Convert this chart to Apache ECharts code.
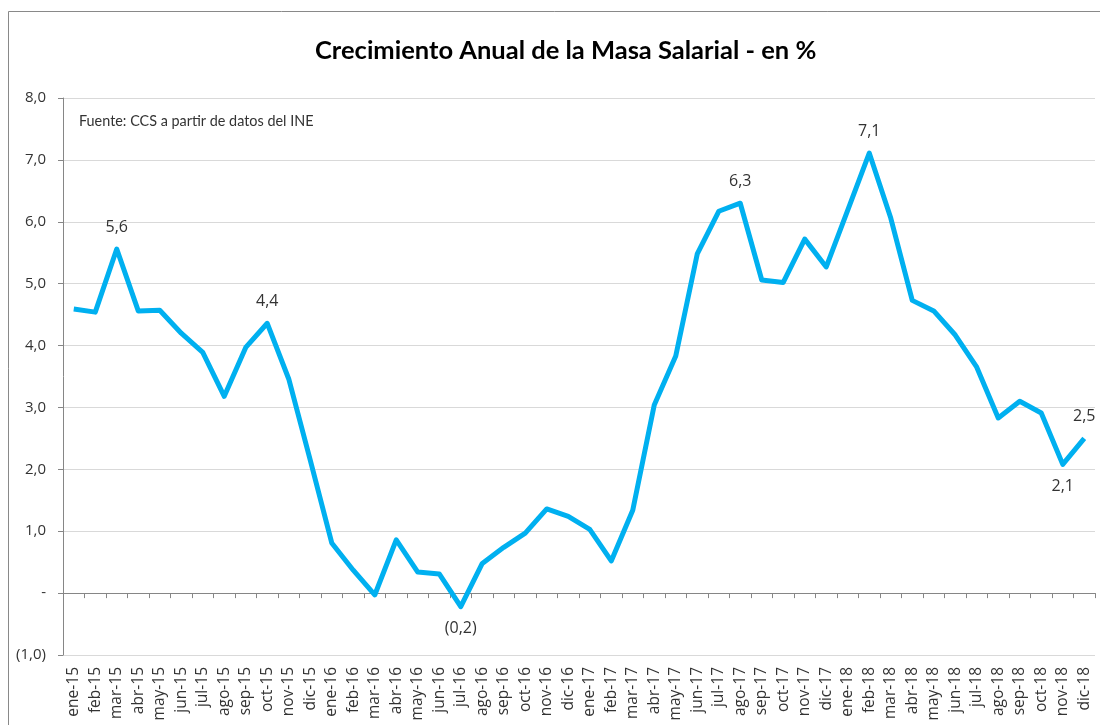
<!DOCTYPE html>
<html>
<head>
<meta charset="utf-8">
<script src="https://cdn.jsdelivr.net/npm/echarts@6/dist/echarts.min.js"></script>
<style>
html,body{margin:0;padding:0;background:#fff;}
#chart{width:1100px;height:725px;}
</style>
</head>
<body>
<div id="chart"></div>
<script>
var months = ['ene-15','feb-15','mar-15','abr-15','may-15','jun-15','jul-15','ago-15','sep-15','oct-15','nov-15','dic-15',
  'ene-16','feb-16','mar-16','abr-16','may-16','jun-16','jul-16','ago-16','sep-16','oct-16','nov-16','dic-16',
  'ene-17','feb-17','mar-17','abr-17','may-17','jun-17','jul-17','ago-17','sep-17','oct-17','nov-17','dic-17',
  'ene-18','feb-18','mar-18','abr-18','may-18','jun-18','jul-18','ago-18','sep-18','oct-18','nov-18','dic-18'];
var growth = [4.59,4.54,5.56,4.56,4.57,4.20,3.89,3.18,3.97,4.36,3.46,2.15,
  0.81,0.37,-0.03,0.86,0.34,0.31,-0.22,0.48,0.74,0.97,1.36,1.24,
  1.03,0.52,1.34,3.04,3.83,5.48,6.17,6.30,5.06,5.02,5.72,5.27,
  6.19,7.11,6.06,4.73,4.56,4.17,3.65,2.83,3.10,2.91,2.08,2.50];
// labelled points: index -> position
var labelIdx = {2:'top',9:'top',18:'bottom',31:'top',37:'top',46:'bottom',47:'top'};
var titleText = 'Crecimiento Anual de la Masa Salarial - en %';
var sourceText = 'Fuente: CCS a partir de datos del INE';

function fmtNum(v){
  var s = Math.abs(v).toFixed(1).replace('.', ',');
  return v < 0 ? '(' + s + ')' : s;
}
function fmtAxis(v){
  if (Math.abs(v) < 1e-9) return '-';
  return fmtNum(v);
}

var labelFont = '"Open Sans", sans-serif';
var seriesData = growth.map(function(v, i){
  var o = {value: v};
  if (labelIdx[i]) {
    o.label = {show: true, position: labelIdx[i], distance: 14,
      formatter: function(p){ return fmtNum(Math.round(p.value*10)/10); }};
    if (i === 47) { o.label.offset = [6, 2]; }
  }
  return o;
});

var chart = echarts.init(document.getElementById('chart'), null, {renderer: 'canvas'});
var fontFam = 'Lato, "Open Sans", sans-serif';
chart.setOption({
  animation: false,
  backgroundColor: '#ffffff',
  textStyle: {fontFamily: labelFont},
  title: {
    text: titleText,
    left: 310,
    top: 33,
    textStyle: {fontFamily: fontFam, fontSize: 25.5, fontWeight: 'bold', color: '#000'}
  },
  graphic: [
    {type: 'rect', shape: {x: 8.5, y: 11.5, width: 1100, height: 720}, style: {fill: 'none', stroke: '#898989', lineWidth: 1}, silent: true, z: -1},
    {type: 'text', left: 79, top: 114, style: {text: sourceText, font: '14.4px ' + fontFam, fill: '#333'}}
  ],
  grid: {left: 63, right: 5, top: 98, bottom: 70, containLabel: false},
  xAxis: [
    {
      type: 'category', data: months, position: 'bottom', boundaryGap: true,
      axisLine: {show: false, onZero: false}, axisTick: {show: false},
      axisLabel: {rotate: 90, fontSize: 15.5, color: '#333', margin: 12, interval: 0, fontFamily: labelFont}
    },
    {
      type: 'category', data: months, position: 'bottom', boundaryGap: true,
      axisLine: {show: true, onZero: true, lineStyle: {color: '#868686', width: 1}},
      axisTick: {show: true, inside: false, length: 5, interval: 0, alignWithLabel: false, lineStyle: {color: '#868686'}},
      axisLabel: {show: false}
    }
  ],
  yAxis: {
    type: 'value', min: -1, max: 8, interval: 1,
    axisLine: {show: true, lineStyle: {color: '#868686'}},
    axisTick: {show: true, length: 5, lineStyle: {color: '#868686'}},
    splitLine: {show: true, lineStyle: {color: '#d9d9d9', width: 1}},
    axisLabel: {fontSize: 15, color: '#333', margin: 17, formatter: fmtAxis, fontFamily: labelFont}
  },
  series: [{
    type: 'line',
    xAxisIndex: 0,
    data: seriesData,
    showSymbol: true,
    symbol: 'circle',
    symbolSize: 0,
    lineStyle: {color: '#00B0F0', width: 5, join: 'round'},
    itemStyle: {color: '#00B0F0'},
    label: {show: false, fontSize: 16, color: '#333', fontFamily: labelFont},
    labelLayout: {hideOverlap: false},
    z: 3
  }]
});
</script>
</body>
</html>
